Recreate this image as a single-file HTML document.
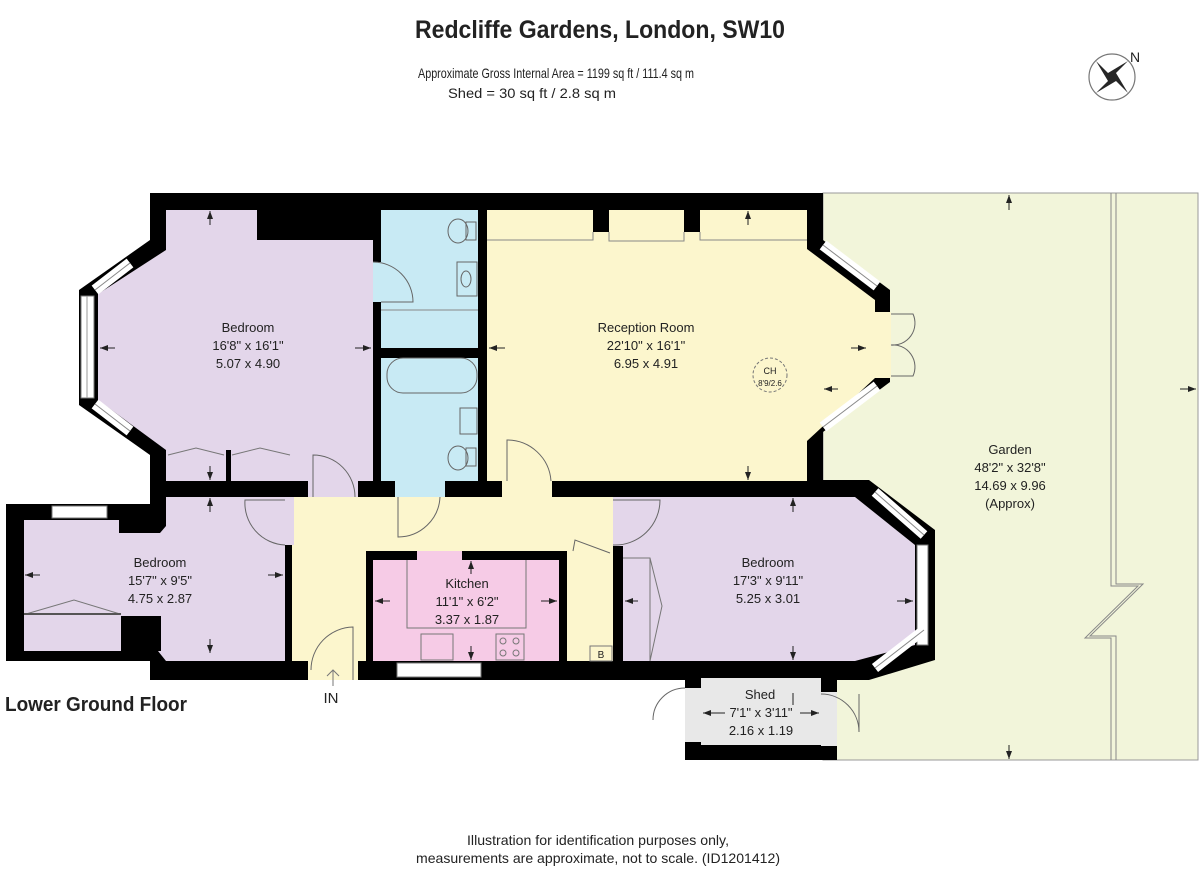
<!DOCTYPE html>
<html><head><meta charset="utf-8"><style>
html,body{margin:0;padding:0;background:#fff;}
svg{display:block;}
text{font-family:"Liberation Sans",Arial,sans-serif;fill:#222;}
.l{font-size:13px;text-anchor:middle;}
</style></head><body>
<svg width="1200" height="870" viewBox="0 0 1200 870" xmlns="http://www.w3.org/2000/svg">
<defs>
<marker id="a" markerWidth="8" markerHeight="6" refX="8" refY="3" orient="auto" markerUnits="userSpaceOnUse"><path d="M0,0 L8,3 L0,6 z" fill="#222"/></marker>
</defs>
<!-- title -->
<text x="600" y="38" style="font-size:25px;font-weight:bold;text-anchor:middle" textLength="370" lengthAdjust="spacingAndGlyphs">Redcliffe Gardens, London, SW10</text>
<text x="556" y="78" style="font-size:14px;text-anchor:middle" textLength="276" lengthAdjust="spacingAndGlyphs">Approximate Gross Internal Area =  1199 sq ft / 111.4 sq m</text>
<text x="532" y="98" style="font-size:14px;text-anchor:middle" textLength="168" lengthAdjust="spacingAndGlyphs">Shed = 30 sq ft / 2.8 sq m</text>
<!-- compass -->
<circle cx="1112" cy="77" r="23" fill="none" stroke="#777" stroke-width="1.2"/>
<path d="M1112,77 L1128,61 L1116,73 z M1112,77 L1128,93 L1116,81 z M1112,77 L1096,93 L1108,81 z M1112,77 L1096,61 L1108,73 z" fill="#000"/>
<path d="M1112,77 L1128,61 L1108,73 z M1112,77 L1128,93 L1116,73 z M1112,77 L1096,93 L1116,81z M1112,77 L1096,61 L1108,81z" fill="#000" opacity=".85"/>
<text x="1130" y="62" style="font-size:14px">N</text>

<!-- garden -->
<rect x="823" y="193" width="375" height="567" fill="#f2f5da" stroke="#999" stroke-width="1"/>
<path d="M1111,193 V586 L1138,586 L1085,638 L1111,638 V760 M1116,193 V584 L1143,584 L1090,636 L1116,636 V760" fill="none" stroke="#888" stroke-width="1"/>

<!-- building footprint -->
<path d="M150,193 H823 V240 L890,290 V382 L823,432 V480 H869 L935,530 V660 L869,680 H150 V661 H6 V504 H150 V455 L79,405 V290 L150,240 Z" fill="#000"/>

<!-- shed -->
<rect x="685" y="678" width="152" height="82" fill="#000"/>
<rect x="701" y="678" width="120" height="67" fill="#e8e8e8"/>
<rect x="685" y="688" width="16" height="54" fill="#e8e8e8"/>
<rect x="821" y="692" width="16" height="54" fill="#e8e8e8"/>
<path d="M685,688 A32,32 0 0 0 653,720 M821,694 A38,38 0 0 1 859,732 M859,694 V732" fill="none" stroke="#666" stroke-width="1"/>

<!-- Bedroom 1 -->
<path d="M166,210 H257 V240 H373 V481 H166 V450 L98,400 V294 L166,250 Z" fill="#e3d6ea"/>
<!-- left bay windows -->
<rect x="81" y="296" width="13" height="102" fill="#fff" stroke="#777" stroke-width="1"/>
<line x1="87" y1="296" x2="87" y2="398" stroke="#999"/>
<line x1="95" y1="290" x2="130" y2="263" stroke="#fff" stroke-width="11"/>
<line x1="95" y1="290" x2="130" y2="263" stroke="#888" stroke-width="1"/>
<line x1="95" y1="404" x2="130" y2="431" stroke="#fff" stroke-width="11"/>
<line x1="95" y1="404" x2="130" y2="431" stroke="#888" stroke-width="1"/>
<!-- wardrobes bedroom1 -->
<path d="M168,455 L196,448 L224,455 M232,455 L260,448 L290,455" fill="none" stroke="#777"/>
<rect x="226" y="450" width="5" height="31" fill="#000"/>

<!-- bathroom -->
<rect x="381" y="210" width="97" height="271" fill="#c8eaf4"/>
<rect x="381" y="348" width="97" height="10" fill="#000"/>
<rect x="373" y="262" width="8" height="40" fill="#c8eaf4"/>
<path d="M373,262 A40,40 0 0 1 413,302 H381" fill="none" stroke="#666"/>
<line x1="381" y1="310" x2="478" y2="310" stroke="#888"/>
<ellipse cx="458" cy="231" rx="10" ry="12" fill="none" stroke="#666"/>
<rect x="466" y="222" width="10" height="18" fill="none" stroke="#666"/>
<rect x="457" y="262" width="20" height="34" fill="none" stroke="#666"/>
<ellipse cx="466" cy="279" rx="5" ry="8" fill="none" stroke="#666"/>
<rect x="387" y="358" width="90" height="35" rx="16" fill="none" stroke="#666"/>
<rect x="460" y="408" width="17" height="26" fill="none" stroke="#666"/>
<ellipse cx="458" cy="458" rx="10" ry="12" fill="none" stroke="#666"/>
<rect x="466" y="448" width="10" height="18" fill="none" stroke="#666"/>

<!-- reception -->
<path d="M487,210 H807 V249 L875,300 V378 L807,441 V481 H487 Z" fill="#fcf6cd"/>
<rect x="593" y="210" width="16" height="22" fill="#000"/>
<rect x="684" y="210" width="16" height="22" fill="#000"/>
<path d="M487,240 H593 V232 M609,232 V241 H684 V232 M700,232 V240 H807" fill="none" stroke="#888"/>
<line x1="823" y1="245" x2="877" y2="286" stroke="#fff" stroke-width="11"/>
<line x1="823" y1="245" x2="877" y2="286" stroke="#888"/>
<line x1="823" y1="427" x2="877" y2="386" stroke="#fff" stroke-width="11"/>
<line x1="823" y1="427" x2="877" y2="386" stroke="#888"/>
<rect x="875" y="312" width="16" height="66" fill="#fcf6cd"/>
<path d="M891,314 H913 A22,22 0 0 1 891,345 A22,22 0 0 1 913,376 H891" fill="none" stroke="#666"/>
<circle cx="770" cy="375" r="17" fill="none" stroke="#777" stroke-dasharray="3,2"/>
<text x="770" y="374" style="font-size:9px;text-anchor:middle">CH</text>
<text x="770" y="386" style="font-size:8px;text-anchor:middle">8'9/2.6</text>

<!-- hall -->
<path d="M292,497 H613 V661 H567 V551 H366 V661 H292 Z" fill="#fcf6cd"/>
<rect x="308" y="481" width="50" height="16" fill="#e3d6ea"/>
<rect x="395" y="481" width="50" height="16" fill="#c8eaf4"/>
<rect x="502" y="481" width="50" height="16" fill="#fcf6cd"/>
<rect x="308" y="661" width="50" height="19" fill="#fcf6cd"/>
<path d="M313,497 V455 A42,42 0 0 1 355,497 M398,497 V537 A42,42 0 0 0 440,497 M507,481 V440 A44,44 0 0 1 551,481 M353,680 V627 A43,43 0 0 0 311,670" fill="none" stroke="#666"/>
<path d="M333,686 V670 M327,676 L333,670 L339,676" fill="none" stroke="#777"/>
<text x="331" y="703" style="font-size:15px;text-anchor:middle">IN</text>

<!-- Bedroom 2 -->
<path d="M24,520 H119 V533 H160 L166,526 V497 H285 V661 H166 L158,651 H24 Z" fill="#e3d6ea"/>
<rect x="121" y="616" width="40" height="35" fill="#000"/>
<rect x="52" y="506" width="55" height="12" fill="#fff" stroke="#777"/>
<rect x="285" y="497" width="9" height="48" fill="#e3d6ea"/>
<path d="M285,500 H245 A42,42 0 0 0 285,545" fill="none" stroke="#666"/>
<path d="M26,614 L74,600 L120,614" fill="none" stroke="#777"/>
<line x1="24" y1="614" x2="121" y2="614" stroke="#555" stroke-width="2"/>

<!-- kitchen -->
<rect x="366" y="551" width="201" height="110" fill="#000"/>
<rect x="373" y="560" width="186" height="101" fill="#f6cbe6"/>
<rect x="417" y="551" width="45" height="9" fill="#f6cbe6"/>
<rect x="567" y="560" width="46" height="101" fill="#fcf6cd"/>
<path d="M407,560 V628 H526 V560" fill="none" stroke="#777"/>
<rect x="421" y="634" width="32" height="26" fill="none" stroke="#777"/>
<rect x="496" y="634" width="28" height="26" fill="none" stroke="#777"/>
<g fill="none" stroke="#777"><circle cx="503" cy="641" r="3"/><circle cx="516" cy="641" r="3"/><circle cx="503" cy="653" r="3"/><circle cx="516" cy="653" r="3"/></g>
<rect x="397" y="663" width="84" height="14" fill="#fff" stroke="#777"/>
<rect x="590" y="646" width="22" height="15" fill="none" stroke="#777"/>
<text x="601" y="658" style="font-size:10px;text-anchor:middle">B</text>
<path d="M573,551 L575,540 L610,553" fill="none" stroke="#666"/>

<!-- Bedroom 3 -->
<path d="M613,497 H855 L915,545 V645 L855,661 H623 V546 H613 Z" fill="#e3d6ea"/>
<path d="M613,500 H660 A45,45 0 0 1 613,545" fill="none" stroke="#666"/>
<path d="M623,558 H650 L662,606 L650,661 M650,558 V661" fill="none" stroke="#777"/>
<line x1="875" y1="492" x2="924" y2="535" stroke="#fff" stroke-width="10"/>
<line x1="875" y1="492" x2="924" y2="535" stroke="#888"/>
<rect x="917" y="545" width="11" height="100" fill="#fff" stroke="#777"/>
<line x1="875" y1="668" x2="924" y2="630" stroke="#fff" stroke-width="10"/>
<line x1="875" y1="668" x2="924" y2="630" stroke="#888"/>

<!-- measurement arrows -->
<g stroke="#222" stroke-width="1" marker-end="url(#a)">
<line x1="210" y1="225" x2="210" y2="211"/><line x1="210" y1="466" x2="210" y2="480"/>
<line x1="115" y1="348" x2="100" y2="348"/><line x1="355" y1="348" x2="371" y2="348"/>
<line x1="505" y1="348" x2="489" y2="348"/><line x1="851" y1="348" x2="866" y2="348"/>
<line x1="748" y1="225" x2="748" y2="211"/><line x1="748" y1="466" x2="748" y2="480"/>
<line x1="210" y1="512" x2="210" y2="498"/><line x1="210" y1="639" x2="210" y2="653"/>
<line x1="40" y1="575" x2="25" y2="575"/><line x1="268" y1="575" x2="283" y2="575"/>
<line x1="390" y1="601" x2="375" y2="601"/><line x1="541" y1="601" x2="557" y2="601"/>
<line x1="471" y1="574" x2="471" y2="561"/><line x1="471" y1="646" x2="471" y2="660"/>
<line x1="638" y1="601" x2="625" y2="601"/><line x1="897" y1="601" x2="913" y2="601"/>
<line x1="793" y1="512" x2="793" y2="498"/><line x1="793" y1="646" x2="793" y2="660"/>
<line x1="1009" y1="210" x2="1009" y2="195"/><line x1="1009" y1="745" x2="1009" y2="759"/>
<line x1="838" y1="389" x2="824" y2="389"/><line x1="1180" y1="389" x2="1196" y2="389"/>
<line x1="725" y1="713" x2="703" y2="713"/><line x1="800" y1="713" x2="819" y2="713"/>
<line x1="793" y1="705" x2="793" y2="693" marker-end="none"/>
</g>

<!-- labels -->
<text class="l" x="248" y="332">Bedroom</text>
<text class="l" x="248" y="350">16'8" x 16'1"</text>
<text class="l" x="248" y="368">5.07 x 4.90</text>
<text class="l" x="646" y="332">Reception Room</text>
<text class="l" x="646" y="350">22'10" x 16'1"</text>
<text class="l" x="646" y="368">6.95 x 4.91</text>
<text class="l" x="160" y="567">Bedroom</text>
<text class="l" x="160" y="585">15'7" x 9'5"</text>
<text class="l" x="160" y="603">4.75 x 2.87</text>
<text class="l" x="467" y="588">Kitchen</text>
<text class="l" x="467" y="606">11'1" x 6'2"</text>
<text class="l" x="467" y="624">3.37 x 1.87</text>
<text class="l" x="768" y="567">Bedroom</text>
<text class="l" x="768" y="585">17'3" x 9'11"</text>
<text class="l" x="768" y="603">5.25 x 3.01</text>
<text class="l" x="1010" y="454">Garden</text>
<text class="l" x="1010" y="472">48'2" x 32'8"</text>
<text class="l" x="1010" y="490">14.69 x 9.96</text>
<text class="l" x="1010" y="508">(Approx)</text>
<text class="l" x="760" y="699">Shed</text>
<text class="l" x="761" y="717">7'1" x 3'11"</text>
<text class="l" x="761" y="735">2.16 x 1.19</text>

<text x="5" y="711" style="font-size:20px;font-weight:bold" textLength="182" lengthAdjust="spacingAndGlyphs">Lower Ground Floor</text>
<text x="598" y="845" style="font-size:14px;text-anchor:middle" textLength="262" lengthAdjust="spacingAndGlyphs">Illustration for identification purposes only,</text>
<text x="598" y="863" style="font-size:14px;text-anchor:middle" textLength="364" lengthAdjust="spacingAndGlyphs">measurements are approximate, not to scale. (ID1201412)</text>
</svg>
</body></html>
